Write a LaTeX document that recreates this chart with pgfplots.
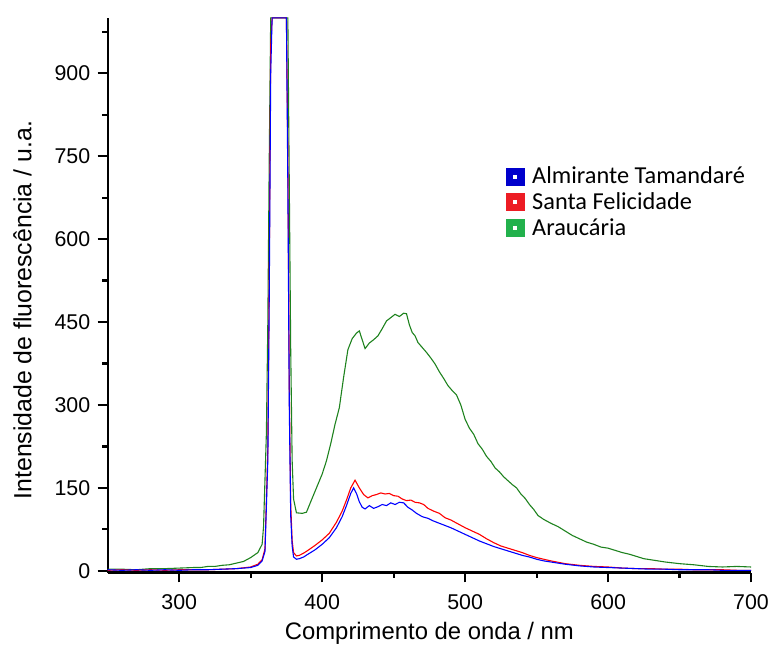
\documentclass[border=0pt]{standalone}
\usepackage{fontspec}
\setmainfont{Liberation Sans}
\newfontfamily\calibri{Carlito}
\usepackage{pgfplots}
\pgfplotsset{compat=1.18}
\definecolor{cblue}{RGB}{0,0,255}
\definecolor{cred}{RGB}{255,0,0}
\definecolor{cgreen}{RGB}{30,130,30}
\definecolor{lblue}{RGB}{0,0,204}
\definecolor{lred}{RGB}{237,28,36}
\definecolor{lgreen}{RGB}{34,177,76}
\begin{document}
\begin{tikzpicture}
\path[use as bounding box] (-108bp,-74bp) rectangle (663bp,574bp);
\begin{axis}[
  at={(0,0)}, anchor=south west,
  scale only axis, width=645bp, height=556bp,
  xmin=250, xmax=700, ymin=-3, ymax=1000,
  axis x line=bottom, axis y line=left,
  axis line style={-, line width=2.4bp},
  tick align=outside,
  major tick length=10bp, minor tick length=5.5bp,
  tick style={black, line width=2.2bp},
  xtick={300,400,500,600,700},
  minor xtick={350,450,550,650},
  ytick={0,150,300,450,600,750,900},
  minor ytick={75,225,375,525,675,825,975},
  /pgf/number format/assume math mode=true,
  tick label style={font=\fontsize{21.5}{26}\selectfont},
  xticklabel style={yshift=-9bp},
  yticklabel style={xshift=-4bp},
  xlabel={Comprimento de onda / nm},
  ylabel={Intensidade de fluorescência / u.a.},
  label style={font=\fontsize{24}{28}\selectfont},
  ylabel style={font=\fontsize{25}{29}\selectfont},
  xlabel style={at={(axis description cs:0.5,-0.110)}, anchor=center},
  ylabel style={at={(axis description cs:-0.1326,0.473)}, anchor=center},
  clip=false,
  legend style={at={(axis description cs:0.6186,0.735)}, anchor=north west,
    draw=none, fill=none, font=\calibri\fontsize{24.5}{28}\selectfont,
    row sep=3.5bp, inner sep=0pt, cells={anchor=west}},
]
\addlegendimage{legend image code/.code={\fill[lblue] (0bp,-8.5bp) rectangle (18bp,8.5bp); \fill[white] (7.5bp,-1.5bp) rectangle (10.5bp,1.5bp); \path (24bp,0bp);}}
\addlegendentry{Almirante Tamandaré}
\addlegendimage{legend image code/.code={\fill[lred] (0bp,-8.5bp) rectangle (18bp,8.5bp); \fill[white] (7.5bp,-1.5bp) rectangle (10.5bp,1.5bp); \path (24bp,0bp);}}
\addlegendentry{Santa Felicidade}
\addlegendimage{legend image code/.code={\fill[lgreen] (0bp,-8.5bp) rectangle (18bp,8.5bp); \fill[white] (7.5bp,-1.5bp) rectangle (10.5bp,1.5bp); \path (24bp,0bp);}}
\addlegendentry{Araucária}

\addplot[cgreen, line width=1.1bp, forget plot] table {
x y
250 3
260 3
270 2
280 4
290 4
300 5
310 6
315 6
320 8
325 8
330 10
335 11
340 14
345 17
350 24
355 33
358 48
359 80
361 250
362 450
363 750
364 1000
376 1000
377 700
378 400
379 200
380 130
382 105
386 104
389 106
392 125
396 150
400 175
403 199
406 230
409 265
412 295
415 350
418 400
421 420
424 430
426 434
428 418
430 402
433 412
436 418
439 425
442 438
445 452
448 458
451 464
454 460
457 466
459 465
461 445
463 431
465 425
467 413
470 404
473 395
476 385
479 374
482 360
485 348
488 335
491 326
494 318
497 300
500 274
503 258
506 247
509 230
512 220
515 207
518 198
521 186
524 179
527 170
530 163
533 156
536 150
539 139
542 131
545 120
548 111
551 100
555 93
560 86
565 80
570 72
575 64
580 58
585 52
590 48
595 43
600 41
605 37
610 33
615 30
620 26
625 22
630 20
635 18
640 16
650 13
660 11
670 8
680 7
690 8
700 7
};
\addplot[cred, line width=1.1bp, forget plot] table {
x y
250 1
260 2
270 1
280 2
290 1
300 2
310 2
320 2
330 3
340 4
350 7
355 12
358 20
360 40
362 220
363 550
364 950
365 1000
375 1000
376 750
377 330
378 120
379 55
380 33
382 27
384 28
387 32
390 37
395 46
400 56
405 68
410 88
414 108
417 128
420 150
423 164
426 150
429 138
432 132
435 136
438 138
441 141
444 139
447 140
450 136
453 135
456 130
459 127
462 128
465 124
468 123
471 120
474 113
478 108
482 104
486 96
490 92
495 85
500 78
505 72
510 66
515 58
520 51
525 45
530 41
535 37
540 33
545 28
550 24
555 21
560 18
570 13
580 10
590 8
600 7
610 5
620 4
630 4
640 3
650 3
660 2
670 2
680 2
690 1
700 1
};
\addplot[cblue, line width=1.1bp, forget plot] table {
x y
250 2
260 1
270 2
280 1
290 2
300 1
310 2
320 2
330 3
340 4
350 6
355 10
358 18
360 35
362 200
363 500
364 900
365 1000
375 1000
376 700
377 300
378 100
379 45
380 25
382 21
384 22
387 25
390 30
395 38
400 48
405 60
410 78
414 98
417 118
420 140
422 150
424 140
426 125
428 115
430 112
433 118
436 113
439 116
442 120
445 118
448 123
451 120
454 124
457 123
460 115
463 110
466 104
470 98
474 95
478 90
482 86
486 82
490 78
495 72
500 66
505 60
510 54
515 49
520 44
525 40
530 36
535 32
540 28
545 25
550 21
555 18
560 16
570 12
580 9
590 7
600 6
610 5
620 4
630 3
640 3
650 2
660 2
670 2
680 1
690 1
700 1
};
\end{axis}
\end{tikzpicture}
\end{document}
